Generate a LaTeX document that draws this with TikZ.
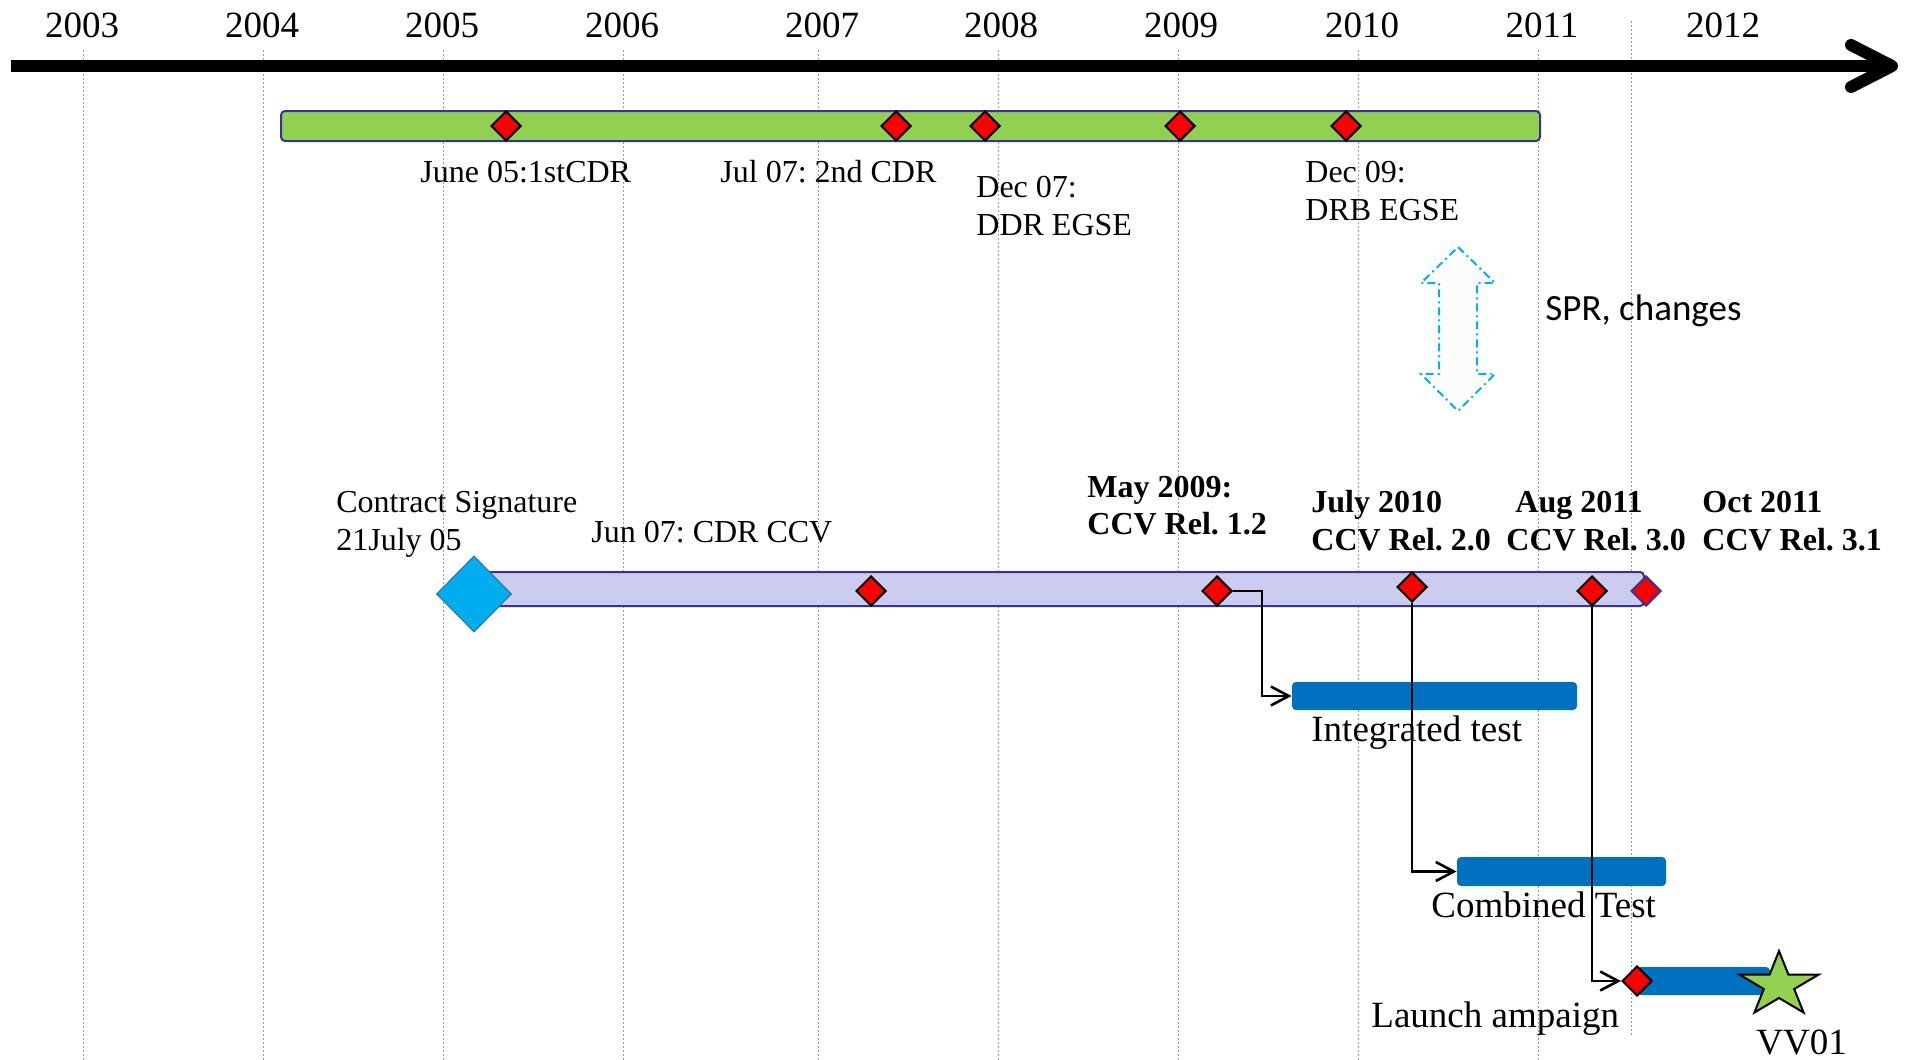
\documentclass[tikz,border=0pt]{standalone}
\usepackage{fontspec}
\setmainfont{Liberation Serif}
\newfontfamily\sprfont{Carlito}
\usetikzlibrary{shapes.geometric,arrows.meta,calc}
\definecolor{barGreen}{HTML}{92D050}
\definecolor{barEdge}{HTML}{333399}
\definecolor{barLav}{HTML}{CCCCEE}
\definecolor{taskBlue}{HTML}{0070C0}
\definecolor{sigBlue}{HTML}{00AEEF}
\definecolor{sigEdge}{HTML}{2A7AB0}
\definecolor{sprCyan}{HTML}{00B0F0}
\definecolor{sprFill}{HTML}{FCFCFC}
\definecolor{gridGrey}{HTML}{9A9A9A}
\frenchspacing

\begin{document}
\begin{tikzpicture}[x=0.5pt,y=-0.5pt,
  gridline/.style={gridGrey, line width=0.5pt, dash pattern=on 1pt off 1pt},
  axisline/.style={line width=6pt, black},
  yearlbl/.style={anchor=base, inner sep=0, font=\fontsize{18.5}{22}\selectfont},
  lbl/.style={anchor=base west, inner sep=0, font=\fontsize{16}{19}\selectfont},
  blbl/.style={anchor=base west, inner sep=0, font=\fontsize{16}{19}\selectfont\bfseries},
  biglbl/.style={anchor=base west, inner sep=0, font=\fontsize{18.5}{22}\selectfont},
  ms/.style={diamond, draw=black, fill=red, line width=1pt, inner sep=0,
             minimum width=15pt, minimum height=15pt},
  phasebar/.style={rectangle, draw=barEdge, line width=1pt, rounded corners=2pt, inner sep=0},
  taskbar/.style={rectangle, fill=taskBlue, rounded corners=2pt, inner sep=0},
  conn/.style={line width=1.3pt, black, -{Straight Barb[length=9pt,width=9.5pt]}},
]

\useasboundingbox (0,0) rectangle (1906,1060);

% year grid
\foreach \gx in {83,263,443,623,818,998,1178,1358,1538}
  \draw[gridline] (\gx,50) -- (\gx,1060);
\draw[gridline] (1631,21) -- (1631,1035);

% year labels
\foreach \yr/\lx in {2003/82,2004/262,2005/442,2006/622,2007/822,2008/1001,
                     2009/1181,2010/1362,2011/1542,2012/1723}
  \node[yearlbl] (y\yr) at (\lx,37) {\yr};

% time axis
\coordinate (axL) at (11,66);
\coordinate (axR) at (1892,66);
\draw[axisline] (axL) -- ($(axR)+(-4,0)$);
\draw[axisline, line cap=round, line join=round]
  ($(axR)+(-41,-21)$) -- (axR) -- ($(axR)+(-41,21)$);

% EGSE phase bar
\node[phasebar, fill=barGreen, minimum width=629.5pt, minimum height=15pt] (egse) at (910.5,126) {};
\foreach \mx [count=\i] in {506,896,985,1180,1346}
  \node[ms] (e\i) at (\mx,126) {};

\node[lbl] (l1) at (420,182) {June 05:1stCDR};
\node[lbl] (l2) at (720,182) {Jul 07: 2nd CDR};
\node[lbl] (l3a) at (976,197) {Dec 07:};
\node[lbl] (l3b) at (976,235) {DDR EGSE};
\node[lbl] (l4a) at (1305,182) {Dec 09:};
\node[lbl] (l4b) at (1305,220) {DRB EGSE};

% SPR / changes exchange
\draw[sprCyan, fill=sprFill, line width=1pt, dash pattern=on 4pt off 2pt on 1pt off 2pt]
  (1458,247) -- (1495,283) -- (1477,283) -- (1477,374) -- (1495,374) -- (1458,411)
  -- (1421,374) -- (1439,374) -- (1439,283) -- (1421,283) -- cycle;
\node[anchor=base west, inner sep=0, font=\sprfont\fontsize{18.5}{22}\selectfont] (spr)
  at (1545,320) {SPR, changes};

% CCV phase bar
\node[phasebar, fill=barLav, minimum width=585pt, minimum height=17pt] (ccv) at (1059,589) {};

\node[lbl] (cs1) at (336,512) {Contract Signature};
\node[lbl] (cs2) at (336,550) {21July 05};
\node[lbl] (cdr) at (591,542) {Jun 07: CDR CCV};
\node[blbl] (r1a) at (1087,497) {May 2009:};
\node[blbl] (r1b) at (1087,534) {CCV Rel. 1.2};
\node[blbl] (r2a) at (1311,512) {July 2010};
\node[blbl] (r2b) at (1311,550) {CCV Rel. 2.0};
\node[blbl] (r3a) at (1515,512) {Aug 2011};
\node[blbl] (r3b) at (1506,550) {CCV Rel. 3.0};
\node[blbl] (r4a) at (1702,512) {Oct 2011};
\node[blbl] (r4b) at (1702,550) {CCV Rel. 3.1};

% test tasks
\node[taskbar, minimum width=142.5pt, minimum height=14pt] (it) at (1434.5,696) {};
\node[taskbar, minimum width=104.5pt, minimum height=14.5pt] (cb) at (1561.5,871.5) {};
\node[taskbar, minimum width=66.5pt, minimum height=14pt] (lc) at (1703.5,981) {};

\node[biglbl] (itl) at (1311,741) {Integrated test};
\node[biglbl] (cbl) at (1431,917) {Combined Test};
\node[biglbl] (lcl) at (1371,1027) {Launch ampaign};
\node[biglbl] (vvl) at (1756,1054) {VV01};

% milestones on the CCV bar
\node[diamond, fill=sigBlue, draw=sigEdge, line width=0.6pt, inner sep=0,
      minimum width=37.5pt, minimum height=38pt] (sig) at (474,594) {};
\node[ms] (c1) at (871,591) {};
\node[ms] (c2) at (1217,591) {};
\node[ms] (c3) at (1412,587) {};
\node[ms] (c4) at (1592,591) {};
\node[ms, draw=barEdge] (c5) at (1646,591) {};

% launch milestones
\node[ms] (ld) at (1637,981) {};
\node[star, star points=5, star point ratio=2.618, minimum size=34pt, inner sep=0,
      fill=barGreen, draw=black, line width=1pt, xscale=1.23] (vv) at (1779,985) {};

% release links
\draw[conn] (c2.east) -- ++(29,0) |- (it.west);
\draw[conn] (c3.south) |- (cb.west);
\draw[conn] (c4.south) |- (ld.west);
\end{tikzpicture}
\end{document}
